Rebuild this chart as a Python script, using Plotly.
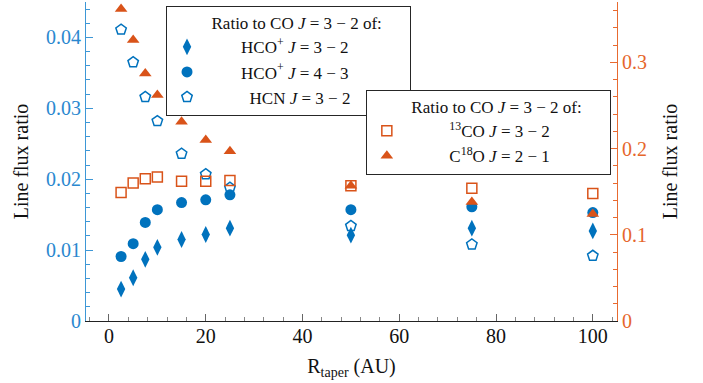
import plotly.graph_objects as go

# ---- data ----
r_taper = [2.5, 5, 7.5, 10, 15, 20, 25, 50, 75, 100]
hco_32 = [0.0045, 0.0061, 0.0087, 0.0104, 0.0115, 0.0122, 0.0131, 0.0121, 0.0131, 0.0127]
hco_43 = [0.0091, 0.0109, 0.0139, 0.0157, 0.0167, 0.0171, 0.0178, 0.0157, 0.0161, 0.0153]
hcn_32 = [0.0411, 0.0365, 0.0316, 0.0282, 0.0236, 0.0207, 0.0188, 0.0134, 0.0108, 0.0092]
co13_32 = [0.149, 0.160, 0.165, 0.167, 0.162, 0.162, 0.163, 0.157, 0.154, 0.148]
c18o_21 = [0.362, 0.326, 0.287, 0.262, 0.231, 0.210, 0.197, 0.157, 0.138, 0.124]

x_ticks = [0, 20, 40, 60, 80, 100]
left_ticks = [0, 0.01, 0.02, 0.03, 0.04]
left_labels = ["0", "0.01", "0.02", "0.03", "0.04"]
right_ticks = [0, 0.1, 0.2, 0.3]
right_labels = ["0", "0.1", "0.2", "0.3"]

BLUE = "#0072BD"
ORANGE = "#D95319"
BLUE_AX = "#3d97d6"
ORANGE_AX = "#e86a30"
FONT = "Liberation Serif"
NB = "\u00a0"
LFS = 17

fig = go.Figure()
fig.add_trace(go.Scatter(x=r_taper, y=hco_32, mode="markers", name=NB*8 + "HCO<sup>+</sup> <i>J</i> = 3 − 2",
                         marker=dict(symbol="diamond-tall", size=12, color=BLUE), legend="legend"))
fig.add_trace(go.Scatter(x=r_taper, y=hco_43, mode="markers", name=NB*8 + "HCO<sup>+</sup> <i>J</i> = 4 − 3",
                         marker=dict(symbol="circle", size=11, color=BLUE), legend="legend"))
fig.add_trace(go.Scatter(x=r_taper, y=hcn_32, mode="markers", name=NB*10 + "HCN <i>J</i> = 3 − 2",
                         marker=dict(symbol="pentagon-open", size=11, color=BLUE, line=dict(width=1.5)), legend="legend"))
fig.add_trace(go.Scatter(x=r_taper, y=co13_32, mode="markers", name=NB*10 + "<sup>13</sup>CO <i>J</i> = 3 − 2",
                         marker=dict(symbol="square-open", size=10, color=ORANGE, line=dict(width=1.5)),
                         yaxis="y2", legend="legend2"))
fig.add_trace(go.Scatter(x=r_taper, y=c18o_21, mode="markers", name=NB*10 + "C<sup>18</sup>O <i>J</i> = 2 − 1",
                         marker=dict(symbol="triangle-up", size=11, color=ORANGE),
                         yaxis="y2", legend="legend2"))

legend_common = dict(
    bgcolor="white", bordercolor="#262626", borderwidth=1,
    font=dict(family=FONT, size=LFS, color="#111"),
    xanchor="left", yanchor="top",
)
title_text = NB*10 + "Ratio to CO <i>J</i> = 3 − 2 of:" + NB*6

fig.update_layout(
    width=703, height=383,
    margin=dict(l=86, r=86, t=2, b=62),
    paper_bgcolor="white", plot_bgcolor="white",
    font=dict(family=FONT, size=20, color="#111"),
    showlegend=True,
    legend=dict(x=0.1507, y=0.987,
                title=dict(text=title_text, side="top", font=dict(family=FONT, size=LFS)),
                **legend_common),
    legend2=dict(x=0.527, y=0.724,
                 title=dict(text=title_text, side="top", font=dict(family=FONT, size=LFS)),
                 **legend_common),
    xaxis=dict(range=[-4.75, 105], tickvals=x_ticks, showgrid=False, zeroline=False,
               showline=True, linecolor="#222", linewidth=1,
               ticks="inside", ticklen=7, tickcolor="#666",
               minor=dict(ticks="inside", ticklen=4, dtick=4, tick0=0, tickcolor="#888", showgrid=False),
               tickfont=dict(family=FONT, size=20, color="#111"),
               ticklabelstandoff=-3,
               title=dict(text="R<sub>taper</sub> (AU)", font=dict(family=FONT, size=20), standoff=12)),
    yaxis=dict(range=[0, 0.045], tickvals=left_ticks, ticktext=left_labels, showgrid=False, zeroline=False,
               showline=True, linecolor=BLUE_AX, linewidth=1,
               ticks="inside", ticklen=7, tickcolor=BLUE_AX,
               minor=dict(ticks="inside", ticklen=4, dtick=0.002, tick0=0, tickcolor=BLUE_AX, showgrid=False),
               tickfont=dict(family=FONT, size=20, color="#2a88cf"),
               title=dict(text="Line flux ratio", font=dict(family=FONT, size=20), standoff=12)),
    yaxis2=dict(range=[0, 0.37], tickvals=right_ticks, ticktext=right_labels, overlaying="y", side="right",
                anchor="x", showgrid=False, zeroline=False,
                showline=True, linecolor=ORANGE_AX, linewidth=1,
                ticks="inside", ticklen=7, tickcolor=ORANGE_AX,
                minor=dict(ticks="inside", ticklen=4, dtick=0.02, tick0=0, tickcolor=ORANGE_AX, showgrid=False),
                tickfont=dict(family=FONT, size=20, color="#e6662b"),
                title=dict(text="Line flux ratio", font=dict(family=FONT, size=20), standoff=16)),
)

fig.write_html("out.html", config={"displayModeBar": False},
               post_script="document.body.style.margin='0px';")
